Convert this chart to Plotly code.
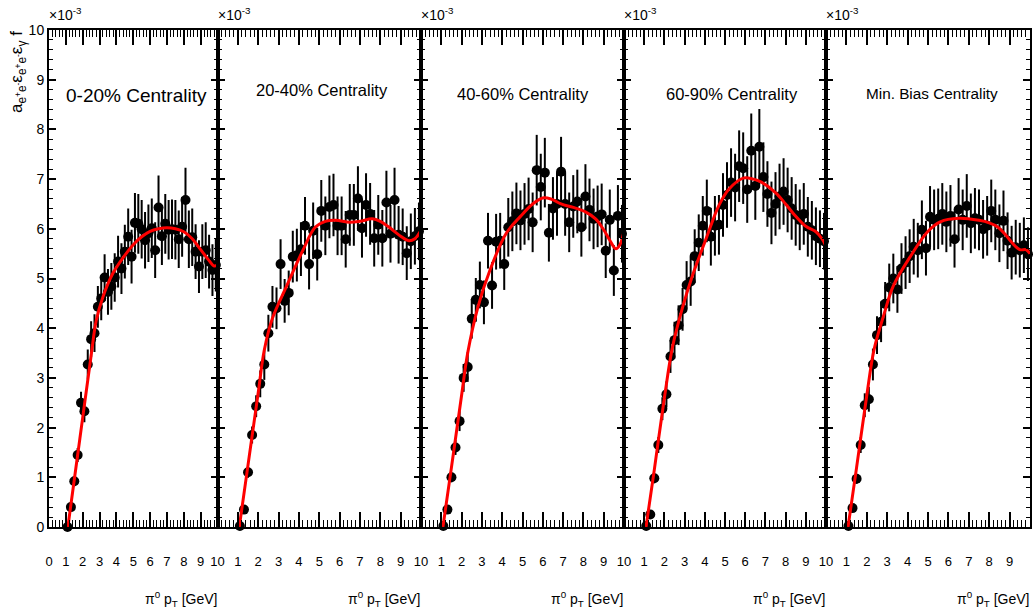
import plotly.graph_objects as go

W, H = 1034, 615

# ---------------- data ----------------
pt = [1.1, 1.3, 1.5, 1.7, 1.9, 2.1, 2.3, 2.5, 2.7, 2.9, 3.1, 3.3, 3.5, 3.7, 3.9,
      4.1, 4.3, 4.5, 4.7, 4.9, 5.1, 5.3, 5.5, 5.7, 5.9, 6.1, 6.3, 6.5, 6.7, 6.9,
      7.1, 7.3, 7.5, 7.7, 7.9, 8.1, 8.3, 8.5, 8.7, 8.9, 9.1, 9.3, 9.5, 9.7, 9.9]

panel_titles = ["0-20% Centrality", "20-40% Centrality", "40-60% Centrality",
                "60-90% Centrality", "Min. Bias Centrality"]

y_0_20 = [0.0, 0.4, 0.92, 1.45, 2.5, 2.33, 3.27, 3.78, 3.9, 4.43, 4.6, 5.02, 4.73, 4.84, 5.02,
          5.34, 5.2, 5.54, 5.84, 5.44, 6.12, 6.1, 5.99, 5.77, 5.91, 6.01, 5.57, 6.43, 5.85, 6.1,
          5.98, 5.99, 5.98, 5.79, 6.04, 6.58, 5.79, 5.83, 5.54, 5.24, 5.54, 5.57, 5.34, 5.17, 5.27]
e_0_20 = [0.03, 0.06, 0.1, 0.14, 0.22, 0.22, 0.3, 0.36, 0.38, 0.42, 0.44, 0.47, 0.46, 0.47, 0.49,
          0.52, 0.51, 0.54, 0.57, 0.54, 0.6, 0.6, 0.59, 0.57, 0.58, 0.6, 0.56, 0.64, 0.58, 0.6,
          0.6, 0.6, 0.6, 0.58, 0.6, 0.65, 0.58, 0.58, 0.55, 0.53, 0.55, 0.56, 0.54, 0.52, 0.53]

y_20_40 = [0.02, 0.35, 1.1, 1.85, 2.43, 2.88, 3.27, 3.9, 4.43, 4.4, 5.29, 4.55, 4.71, 5.44, 5.47,
           5.59, 6.06, 5.29, 5.96, 5.49, 6.36, 6.06, 6.44, 6.48, 6.06, 6.06, 5.79, 6.28, 6.28, 6.61,
           6.01, 6.48, 6.3, 5.81, 6.08, 5.81, 6.53, 5.9, 6.58, 5.88, 5.84, 5.51, 5.75, 5.85, 5.95]
e_20_40 = [0.03, 0.05, 0.11, 0.17, 0.22, 0.27, 0.31, 0.37, 0.42, 0.42, 0.5, 0.44, 0.45, 0.52, 0.53,
           0.54, 0.58, 0.51, 0.57, 0.53, 0.62, 0.59, 0.63, 0.63, 0.59, 0.59, 0.57, 0.62, 0.62, 0.65,
           0.59, 0.64, 0.62, 0.57, 0.6, 0.57, 0.64, 0.58, 0.65, 0.58, 0.57, 0.54, 0.56, 0.57, 0.58]

y_40_60 = [0.02, 0.35, 1.0, 1.6, 2.13, 3.0, 3.22, 4.19, 4.57, 4.87, 4.52, 5.76, 4.86, 5.74, 5.76,
           5.29, 6.03, 6.15, 6.31, 6.17, 6.3, 6.4, 6.13, 7.18, 6.84, 7.13, 5.92, 6.41, 6.5, 7.15,
           6.5, 6.13, 6.45, 6.55, 6.03, 6.65, 6.38, 6.2, 6.25, 6.29, 5.56, 6.18, 5.16, 6.26, 5.9]
e_40_60 = [0.03, 0.05, 0.1, 0.15, 0.2, 0.28, 0.3, 0.4, 0.44, 0.47, 0.44, 0.56, 0.47, 0.56, 0.56,
           0.52, 0.59, 0.6, 0.62, 0.6, 0.62, 0.63, 0.6, 0.71, 0.67, 0.7, 0.58, 0.63, 0.64, 0.7,
           0.64, 0.6, 0.63, 0.64, 0.59, 0.65, 0.63, 0.61, 0.62, 0.62, 0.55, 0.61, 0.51, 0.62, 0.58]

y_60_90 = [0.02, 0.25, 0.98, 1.65, 2.38, 2.67, 3.43, 3.76, 4.06, 4.38, 4.87, 4.94, 5.45, 5.72, 6.06,
           6.36, 5.84, 6.06, 6.08, 6.48, 6.68, 6.93, 6.83, 7.26, 7.22, 6.79, 7.57, 6.86, 7.65, 7.04,
           6.7, 6.32, 6.5, 6.65, 6.75, 6.58, 6.41, 6.28, 6.18, 6.3, 6.04, 5.97, 5.85, 5.8, 5.75]
e_60_90 = [0.03, 0.04, 0.1, 0.16, 0.23, 0.26, 0.33, 0.37, 0.4, 0.43, 0.48, 0.49, 0.54, 0.57, 0.6,
           0.63, 0.58, 0.6, 0.6, 0.64, 0.66, 0.69, 0.68, 0.72, 0.72, 0.67, 0.75, 0.68, 0.76, 0.7,
           0.66, 0.63, 0.64, 0.66, 0.67, 0.65, 0.63, 0.62, 0.61, 0.62, 0.6, 0.59, 0.58, 0.57, 0.57]

y_mb = [0.02, 0.38, 0.97, 1.65, 2.45, 2.57, 3.27, 3.86, 4.13, 4.49, 4.82, 5.0, 4.78, 5.2, 5.32,
        5.45, 5.64, 5.57, 5.98, 5.61, 6.24, 6.18, 6.2, 6.3, 6.14, 6.26, 5.79, 6.39, 6.18, 6.46,
        6.11, 6.21, 6.18, 5.99, 6.06, 6.36, 6.18, 5.91, 6.16, 5.76, 5.52, 5.63, 5.57, 5.67, 5.49]
e_mb = [0.03, 0.05, 0.1, 0.16, 0.24, 0.25, 0.32, 0.38, 0.41, 0.44, 0.48, 0.5, 0.47, 0.51, 0.53,
        0.54, 0.56, 0.55, 0.59, 0.55, 0.62, 0.61, 0.61, 0.62, 0.61, 0.62, 0.57, 0.63, 0.61, 0.64,
        0.6, 0.61, 0.61, 0.59, 0.6, 0.63, 0.61, 0.58, 0.61, 0.57, 0.54, 0.55, 0.55, 0.56, 0.54]

# fit curves (sampled)
fx_0_20 = [1.12, 1.5, 2.0, 2.5, 2.8, 3.2, 3.8, 4.4, 5.0, 5.5, 6.0, 6.5, 7.0, 7.5, 8.0, 8.5, 9.0, 9.5, 9.8, 10.0]
fy_0_20 = [0.0, 0.95, 2.2, 3.45, 4.15, 4.63, 5.11, 5.42, 5.68, 5.84, 5.95, 6.0, 6.02, 6.0, 5.94, 5.8, 5.58, 5.36, 5.25, 5.28]

fx_20_40 = [1.07, 1.5, 2.0, 2.3, 2.7, 3.4, 4.2, 4.8, 5.3, 5.8, 6.5, 7.0, 7.6, 8.0, 8.4, 9.0, 9.4, 9.7, 10.0]
fy_20_40 = [0.0, 1.25, 2.7, 3.56, 4.2, 4.85, 5.57, 6.03, 6.15, 6.17, 6.13, 6.15, 6.2, 6.15, 6.04, 5.85, 5.76, 5.8, 5.97]

fx_40_60 = [1.08, 1.5, 2.0, 2.3, 2.8, 3.4, 4.2, 4.9, 5.5, 6.0, 6.4, 6.9, 7.5, 8.1, 8.6, 9.0, 9.3, 9.6, 9.8, 10.0]
fy_40_60 = [0.0, 1.2, 2.65, 3.5, 4.42, 5.17, 5.91, 6.25, 6.5, 6.62, 6.6, 6.5, 6.43, 6.34, 6.2, 5.98, 5.77, 5.6, 5.68, 5.95]

fx_60_90 = [1.09, 1.5, 2.0, 2.4, 2.9, 3.4, 4.1, 4.7, 5.2, 5.9, 6.4, 6.8, 7.5, 8.0, 8.4, 9.0, 9.5, 9.8, 10.0]
fy_60_90 = [0.0, 1.15, 2.6, 3.62, 4.42, 5.07, 5.84, 6.47, 6.8, 7.02, 7.0, 6.94, 6.73, 6.5, 6.3, 6.05, 5.94, 5.8, 5.65]

fx_mb = [1.08, 1.5, 2.0, 2.35, 2.8, 3.3, 4.1, 5.0, 5.6, 6.5, 7.5, 8.0, 8.4, 8.8, 9.1, 9.5, 9.8, 10.0]
fy_mb = [0.0, 1.2, 2.65, 3.56, 4.22, 4.85, 5.42, 5.95, 6.14, 6.21, 6.17, 6.12, 6.04, 5.88, 5.73, 5.58, 5.58, 5.5]

x_tick_vals_first = [0, 1, 2, 3, 4, 5, 6, 7, 8, 9, 10]
x_tick_vals_other = [1, 2, 3, 4, 5, 6, 7, 8, 9, 10]
y_tick_vals = [0, 1, 2, 3, 4, 5, 6, 7, 8, 9, 10]

series = [(y_0_20, e_0_20, fx_0_20, fy_0_20),
          (y_20_40, e_20_40, fx_20_40, fy_20_40),
          (y_40_60, e_40_60, fx_40_60, fy_40_60),
          (y_60_90, e_60_90, fx_60_90, fy_60_90),
          (y_mb, e_mb, fx_mb, fy_mb)]

# ---------------- layout geometry (pixels) ----------------
frames = [(49, 217.5), (217.5, 421), (421, 624), (624, 826), (826, 1030)]
y_bot, y_top = 527, 30
title_pos = [(136, 95, 19), (322, 90, 16.5), (523, 94, 16.5), (732, 94, 16.5), (932, 94, 15.3)]

FONT = "Liberation Sans, Arial, Helvetica, sans-serif"

def px(xp):
    return xp / W

def py(yp):
    return 1 - yp / H

fig = go.Figure()
layout = dict(
    width=W, height=H,
    margin=dict(l=0, r=0, t=0, b=0, autoexpand=False),
    paper_bgcolor="white", plot_bgcolor="white",
    showlegend=False,
    font=dict(family=FONT, color="black"),
)
annotations = []

for i, (yv, ev, fx, fy) in enumerate(series):
    n = i + 1
    xa = "x" if n == 1 else f"x{n}"
    ya = "y" if n == 1 else f"y{n}"
    fig.add_trace(go.Scatter(
        x=pt, y=yv, mode="markers", xaxis=xa, yaxis=ya,
        marker=dict(symbol="circle", size=10, color="black"),
        error_y=dict(type="data", array=ev, visible=True, color="black", thickness=2, width=0),
        cliponaxis=False,
    ))
    fig.add_trace(go.Scatter(
        x=fx, y=fy, mode="lines", xaxis=xa, yaxis=ya,
        line=dict(color="#ff0000", width=3, shape="spline", smoothing=1.0),
        cliponaxis=True,
    ))
    x0, x1 = frames[i]
    tv = x_tick_vals_first if n == 1 else x_tick_vals_other
    layout["xaxis" if n == 1 else f"xaxis{n}"] = dict(
        domain=[px(x0), px(x1)], range=[0, 10], anchor=ya, automargin=False,
        showgrid=False, zeroline=False,
        showline=True, linecolor="black", linewidth=2, mirror="allticks",
        ticks="inside", ticklen=15, tickwidth=1.5, tickcolor="black",
        tickmode="array", tickvals=tv, ticktext=[str(v) for v in tv],
        tickfont=dict(size=13, family=FONT, color="black"),
        ticklabelstandoff=21,
        minor=dict(ticks="inside", ticklen=7, tickwidth=1.2, tickcolor="black",
                   tickmode="linear", tick0=0, dtick=0.2, showgrid=False),
    )
    layout["yaxis" if n == 1 else f"yaxis{n}"] = dict(
        domain=[py(y_bot), py(y_top)], range=[0, 10], anchor=xa, automargin=False,
        showgrid=False, zeroline=False,
        showline=True, linecolor="black", linewidth=2, mirror="allticks",
        ticks="inside", ticklen=7, tickwidth=1.5, tickcolor="black",
        tickmode="array", tickvals=y_tick_vals,
        showticklabels=(n == 1),
        tickfont=dict(size=14, family=FONT, color="black"),
        minor=dict(ticks="inside", ticklen=4, tickwidth=1.2, tickcolor="black",
                   tickmode="linear", tick0=0, dtick=0.2, showgrid=False),
    )
    # x10^-3 label
    annotations.append(dict(
        text="×10<sup>-3</sup>", x=px(x0 - 2), y=py(25), xref="paper", yref="paper",
        xanchor="left", yanchor="bottom", showarrow=False,
        font=dict(size=14, family=FONT, color="black"),
    ))
    # axis title
    annotations.append(dict(
        text="π<sup>0</sup> p<sub>T</sub> [GeV]", x=px(x1 + 1), y=py(599), xref="paper", yref="paper",
        xanchor="right", yanchor="middle", showarrow=False,
        font=dict(size=14, family=FONT, color="black"),
    ))
    # panel title
    cx, cy, fs = title_pos[i]
    annotations.append(dict(
        text=panel_titles[i], x=px(cx), y=py(cy), xref="paper", yref="paper",
        xanchor="center", yanchor="middle", showarrow=False,
        font=dict(size=fs, family=FONT, color="black"),
    ))

# y-axis title
annotations.append(dict(
    text="a<sub>e<sup>+</sup>e<sup>-</sup></sub>ε<sub>e<sup>+</sup>e<sup>-</sup></sub>ε<sub>γ</sub> f",
    x=px(18), y=py(29), xref="paper", yref="paper", textangle=-90,
    xanchor="center", yanchor="top", showarrow=False,
    font=dict(size=17, family=FONT, color="black"),
))

layout["annotations"] = annotations
fig.update_layout(**layout)
fig.write_html("out.html", config={"displayModeBar": False},
               post_script="document.body.style.margin='0px';")
